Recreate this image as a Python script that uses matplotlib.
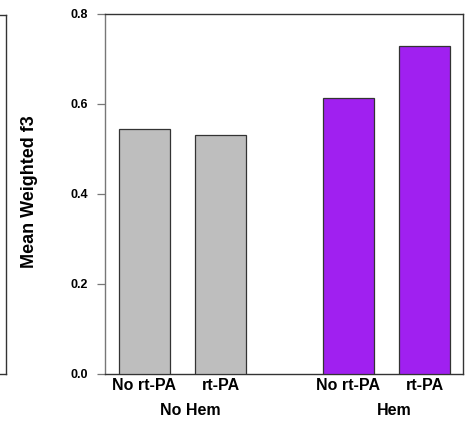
import matplotlib.pyplot as plt
from matplotlib.lines import Line2D

# values
treatments = ["No rt-PA", "rt-PA", "No rt-PA", "rt-PA"]
groups = ["No Hem", "Hem"]
means = [0.544, 0.531, 0.613, 0.729]
bar_pos = [1.0, 2.5, 5.0, 6.5]
group_pos = [1.9, 5.9]
bar_colors = ["#bebebe", "#bebebe", "#a020f0", "#a020f0"]
yticks = [0.0, 0.2, 0.4, 0.6, 0.8]

plt.rcParams.update({
    "font.family": ["Liberation Sans", "DejaVu Sans"],
    "font.weight": "bold",
})

fig = plt.figure(figsize=(4.69, 4.25), dpi=100)
ax = fig.add_axes([105 / 469, 51 / 425, 358 / 469, 360 / 425])

ax.bar(bar_pos, means, width=1.0, color=bar_colors,
       edgecolor="#333333", linewidth=0.9, zorder=3)

ax.set_xlim(0.235, 7.25)
ax.set_ylim(0, 0.8)
ax.set_yticks(yticks)
ax.set_yticklabels([f"{v:.1f}" for v in yticks], fontsize=9, fontweight="bold")
ax.tick_params(axis="y", direction="out", length=6, width=0.9,
               color="#777777", pad=6)
ax.set_xticks([])

for side in ["top", "right", "bottom"]:
    ax.spines[side].set_color("#333333")
    ax.spines[side].set_linewidth(1.0)
ax.spines["left"].set_color("#777777")
ax.spines["left"].set_linewidth(1.0)

# category and group labels under the bars
for x, lab in zip(bar_pos, treatments):
    ax.text(x, -0.012, lab, transform=ax.get_xaxis_transform(),
            ha="center", va="top", fontsize=11.5, fontweight="bold")
for x, lab in zip(group_pos, groups):
    ax.text(x, -0.08, lab, transform=ax.get_xaxis_transform(),
            ha="center", va="top", fontsize=11.5, fontweight="bold")

fig.text(30 / 469, 1 - 192 / 425, "Mean Weighted f3", rotation=90,
         ha="center", va="center", fontsize=13, fontweight="bold")

# edge of a neighbouring panel, cropped off at the left
for xs, ys in [([6, 6], [15, 374]), ([0, 6], [15, 15]), ([0, 6], [374, 374])]:
    fig.add_artist(Line2D([x / 469 for x in xs], [1 - y / 425 for y in ys],
                          color="#333333", linewidth=1.0))

plt.savefig("out.png", dpi=100, facecolor="white")
